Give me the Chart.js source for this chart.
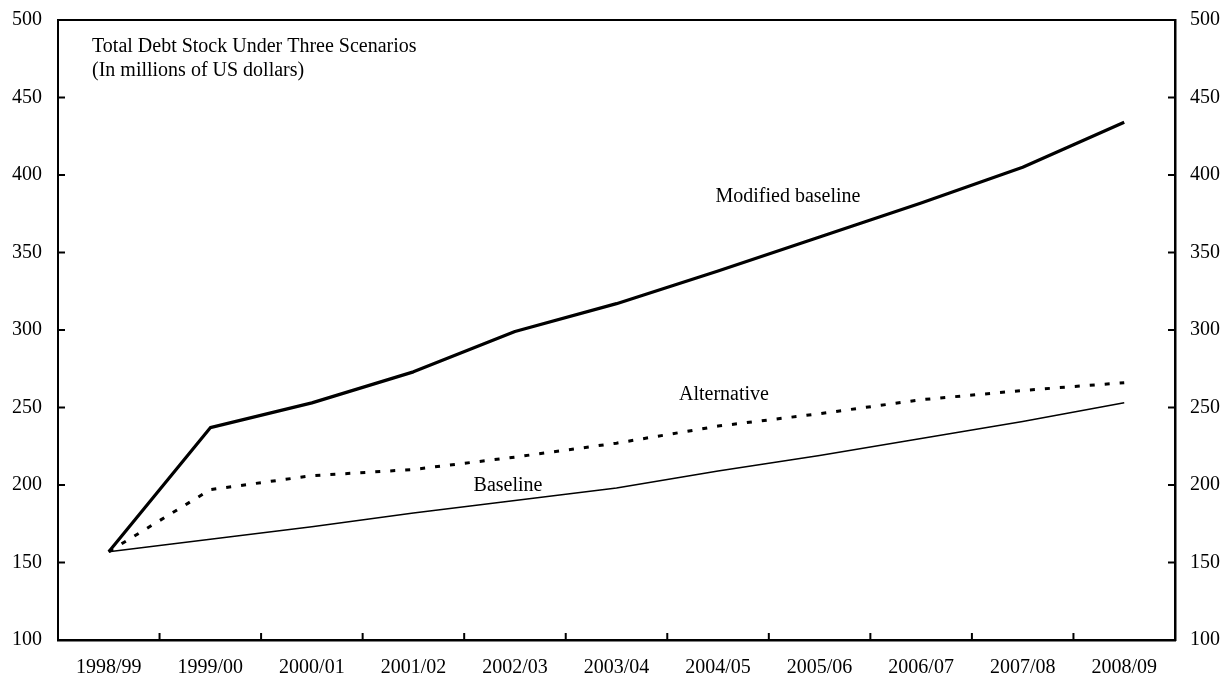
<!DOCTYPE html>
<html>
<head>
<meta charset="utf-8">
<script src="https://cdn.jsdelivr.net/npm/chart.js@4/dist/chart.umd.min.js"></script>
<style>
  html, body { margin: 0; padding: 0; background: #ffffff; }
  #wrap { width: 1226px; height: 681px; }
</style>
</head>
<body>
<div id="wrap"><canvas id="c" width="1226" height="681"></canvas></div>
<script>
const categories = ['1998/99', '1999/00', '2000/01', '2001/02', '2002/03', '2003/04', '2004/05', '2005/06', '2006/07', '2007/08', '2008/09'];
const modifiedBaseline = [157, 237, 253, 273, 299, 317, 338, 360, 382, 405, 434];
const alternative = [157, 197, 206, 210, 218, 227, 238, 246, 255, 261, 266];
const baseline = [157, 165, 173, 182, 190, 198, 209, 219, 230, 241, 253];
const yMin = 100;
const yMax = 500;
const yStep = 50;
const titleLines = ['Total Debt Stock Under Three Scenarios', '(In millions of US dollars)'];
const seriesLabels = ['Modified baseline', 'Alternative', 'Baseline'];

const FONT = '"Liberation Serif", "Times New Roman", serif';

const decorPlugin = {
  id: 'decor',
  afterDraw(chart) {
    const ctx = chart.ctx;
    const a = chart.chartArea;
    const xs = chart.scales.x;
    const yl = chart.scales.y;
    const yr = chart.scales.y2;
    ctx.save();
    ctx.strokeStyle = '#000';
    ctx.lineWidth = 2;
    ctx.beginPath();
    ctx.moveTo(a.left, a.top);
    ctx.lineTo(a.right, a.top);
    ctx.stroke();
    for (let i = 1; i < categories.length; i++) {
      const px = (xs.getPixelForValue(i - 1) + xs.getPixelForValue(i)) / 2;
      ctx.beginPath();
      ctx.moveTo(px, a.bottom);
      ctx.lineTo(px, a.bottom - 7);
      ctx.stroke();
    }
    for (let v = yMin + yStep; v < yMax; v += yStep) {
      const py = yl.getPixelForValue(v);
      ctx.beginPath();
      ctx.moveTo(a.left, py);
      ctx.lineTo(a.left + 7, py);
      ctx.stroke();
      const py2 = yr.getPixelForValue(v);
      ctx.beginPath();
      ctx.moveTo(a.right, py2);
      ctx.lineTo(a.right - 7, py2);
      ctx.stroke();
    }
    ctx.fillStyle = '#000';
    ctx.font = '20px ' + FONT;
    ctx.textAlign = 'left';
    ctx.textBaseline = 'alphabetic';
    ctx.fillText(titleLines[0], a.left + 34, 52);
    ctx.fillText(titleLines[1], a.left + 34, 76);
    ctx.textAlign = 'center';
    ctx.fillText(seriesLabels[0], 788, 202);
    ctx.fillText(seriesLabels[1], 724, 400);
    ctx.fillText(seriesLabels[2], 508, 491);
    ctx.restore();
  }
};

function fixY(width) {
  return function (scale) {
    scale.width = width;
    scale.paddingTop = 0;
    scale.paddingBottom = 0;
  };
}

new Chart(document.getElementById('c'), {
  type: 'line',
  data: {
    labels: categories,
    datasets: [
      {
        label: seriesLabels[0],
        data: modifiedBaseline,
        borderColor: '#000',
        borderWidth: 3.2,
        pointRadius: 0,
        tension: 0,
        borderJoinStyle: 'round',
        yAxisID: 'y'
      },
      {
        label: seriesLabels[1],
        data: alternative,
        borderColor: '#000',
        borderWidth: 3,
        borderDash: [5, 10],
        borderCapStyle: 'butt',
        pointRadius: 0,
        tension: 0,
        yAxisID: 'y'
      },
      {
        label: seriesLabels[2],
        data: baseline,
        borderColor: '#000',
        borderWidth: 1.5,
        pointRadius: 0,
        tension: 0,
        yAxisID: 'y'
      }
    ]
  },
  options: {
    responsive: false,
    animation: false,
    layout: { padding: { top: 20, left: 0, right: 0, bottom: 0 } },
    plugins: {
      legend: { display: false },
      tooltip: { enabled: false },
      title: { display: false }
    },
    scales: {
      x: {
        type: 'category',
        offset: true,
        grid: { display: false, offset: true, drawTicks: false },
        border: { display: true, color: '#000', width: 2.5 },
        ticks: {
          color: '#000',
          font: { family: FONT, size: 20 },
          padding: 16,
          maxRotation: 0,
          autoSkip: false
        },
        afterFit(scale) {
          scale.height = 41;
          scale.paddingLeft = 0;
          scale.paddingRight = 0;
        }
      },
      y: {
        position: 'left',
        min: yMin,
        max: yMax,
        grid: { display: false, drawTicks: false },
        border: { display: true, color: '#000', width: 2 },
        ticks: {
          stepSize: yStep,
          color: '#000',
          font: { family: FONT, size: 20 },
          padding: 16
        },
        afterFit: fixY(58)
      },
      y2: {
        position: 'right',
        min: yMin,
        max: yMax,
        grid: { display: false, drawTicks: false },
        border: { display: true, color: '#000', width: 2.5 },
        ticks: {
          stepSize: yStep,
          color: '#000',
          font: { family: FONT, size: 20 },
          padding: 15
        },
        afterFit: fixY(51)
      }
    }
  },
  plugins: [decorPlugin]
});
</script>
</body>
</html>
